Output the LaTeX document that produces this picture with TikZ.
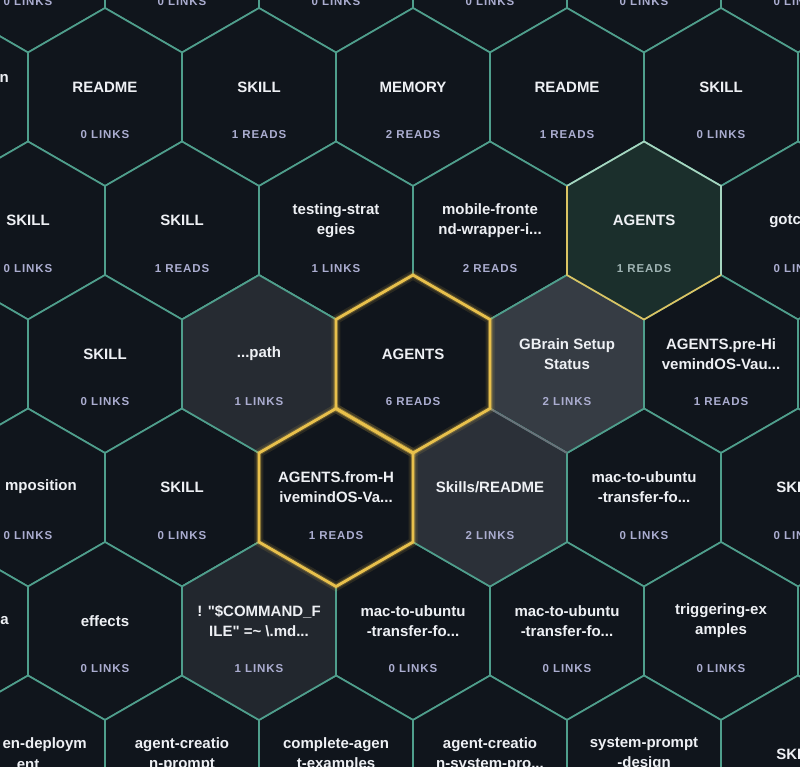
\documentclass[tikz,border=0pt]{standalone}
\usepackage{fontspec}
\setmainfont{Liberation Sans}
\newfontfamily\countfont[LetterSpace=8]{Liberation Sans}
\newfontfamily\rawfont[Ligatures=TeXOff]{Liberation Sans}
\definecolor{bgc}{HTML}{0E1319}
\definecolor{cellc}{HTML}{10151C}
\definecolor{edgec}{HTML}{4F9E8C}
\definecolor{goldc}{HTML}{E8C04C}
\definecolor{greyedge}{HTML}{6A7079}
\definecolor{mintc}{HTML}{A6D6C0}
\definecolor{titlec}{HTML}{EEF0F4}
\definecolor{countc}{HTML}{ABADD0}
\definecolor{greencount}{HTML}{A0B4B4}
\definecolor{greyA}{HTML}{262B32}
\definecolor{greyB}{HTML}{363C44}
\definecolor{greyC}{HTML}{2B3038}
\definecolor{greyD}{HTML}{22272E}
\definecolor{greenfill}{HTML}{1B2F2C}
\newcommand{\hexcell}[3]{\path[#3] (#1,#2) +(0,-89) -- +(77.07,-44.5) -- +(77.07,44.5) -- +(0,89) -- +(-77.07,44.5) -- +(-77.07,-44.5) -- cycle;}
\newcommand{\lbl}[6]{%
  \node[ttl] (#1t) at (#2,#3-10) {#4};
  \node[#6] (#1c) at (#2,#3+38) {#5};}
\begin{document}
\begin{tikzpicture}[x=1pt,y=-1pt,
  basecell/.style={fill=cellc,draw=edgec,line width=1.7pt,line join=miter},
  ttl/.style={font=\bfseries\fontsize{15}{20}\selectfont,text=titlec,align=center,inner sep=0pt},
  cnt/.style={font=\countfont\bfseries\fontsize{11.5}{13}\selectfont,text=countc,inner sep=0pt},
  gcnt/.style={cnt,text=greencount},
  glowA/.style={draw=goldc,line width=9pt,opacity=.12,line join=miter},
  glowB/.style={draw=goldc,line width=5pt,opacity=.25,line join=miter},
  goldline/.style={draw=goldc,line width=2.8pt,line join=miter}]
\useasboundingbox (0,0) rectangle (800,766);
\fill[bgc] (0,0) rectangle (800,766);
\clip (0,0) rectangle (800,766);
% grid of cells
\foreach \r in {0,...,6}{
  \pgfmathsetmacro\yy{-36.5+133.5*\r}
  \pgfmathsetmacro\off{mod(\r,2)==0 ? 28 : -49}
  \foreach \k in {-1,...,6}{
    \pgfmathsetmacro\xx{\off+154*\k}
    \hexcell{\xx}{\yy}{basecell}
  }
}
% grey cells
\hexcell{259}{364}{basecell,fill=greyA}
\hexcell{567}{364}{basecell,fill=greyB}
\hexcell{490}{497.5}{basecell,fill=greyC}
\hexcell{259}{631}{basecell,fill=greyD}
\draw[greyedge,line width=1.7pt] (489.93,408.5) -- (567,453);
% green cell
\hexcell{644}{230.5}{fill=greenfill}
\draw[mintc,line width=1.7pt,line join=miter] (566.93,186) -- (644,141.5) -- (721.07,186) -- (721.07,275);
\draw[goldc!80!mintc,line width=1.7pt,line join=miter] (721.07,275) -- (644,319.5) -- (566.93,275) -- (566.93,186);
% gold cells
\hexcell{413}{364}{glowA}
\hexcell{336}{497.5}{glowA}
\hexcell{413}{364}{glowB}
\hexcell{336}{497.5}{glowB}
\hexcell{413}{364}{goldline}
\hexcell{336}{497.5}{goldline}
% row 0
\node[cnt] (r0a) at (28,1.5) {0 LINKS};
\node[cnt] (r0b) at (182,1.5) {0 LINKS};
\node[cnt] (r0c) at (336,1.5) {0 LINKS};
\node[cnt] (r0d) at (490,1.5) {0 LINKS};
\node[cnt] (r0e) at (644,1.5) {0 LINKS};
\node[cnt] (r0f) at (798,1.5) {0 LINKS};
% row 1
\node[ttl,anchor=east] (r1z) at (9,78) {n};
\lbl{r1a}{105}{97}{README}{0 LINKS}{cnt}
\lbl{r1b}{259}{97}{SKILL}{1 READS}{cnt}
\lbl{r1c}{413}{97}{MEMORY}{2 READS}{cnt}
\lbl{r1d}{567}{97}{README}{1 READS}{cnt}
\lbl{r1e}{721}{97}{SKILL}{0 LINKS}{cnt}
% row 2
\lbl{r2a}{28}{230.5}{SKILL}{0 LINKS}{cnt}
\lbl{r2b}{182}{230.5}{SKILL}{1 READS}{cnt}
\lbl{r2c}{336}{230.5}{testing-strat\\egies}{1 LINKS}{cnt}
\lbl{r2d}{490}{230.5}{mobile-fronte\\nd-wrapper-i...}{2 READS}{cnt}
\lbl{r2e}{644}{230.5}{AGENTS}{1 READS}{gcnt}
\lbl{r2f}{798}{230.5}{gotchas}{0 LINKS}{cnt}
% row 3
\lbl{r3a}{105}{364}{SKILL}{0 LINKS}{cnt}
\lbl{r3b}{259}{364}{...path}{1 LINKS}{cnt}
\lbl{r3c}{413}{364}{AGENTS}{6 READS}{cnt}
\lbl{r3d}{567}{364}{GBrain Setup\\Status}{2 LINKS}{cnt}
\lbl{r3e}{721}{364}{AGENTS.pre-Hi\\vemindOS-Vau...}{1 READS}{cnt}
% row 4
\node[ttl,anchor=east] (r4z) at (77,487) {mposition};
\node[cnt] (r4zc) at (28,535.5) {0 LINKS};
\lbl{r4a}{182}{497.5}{SKILL}{0 LINKS}{cnt}
\lbl{r4b}{336}{497.5}{AGENTS.from-H\\ivemindOS-Va...}{1 READS}{cnt}
\lbl{r4c}{490}{497.5}{Skills/README}{2 LINKS}{cnt}
\lbl{r4d}{644}{497.5}{mac-to-ubuntu\\-transfer-fo...}{0 LINKS}{cnt}
\lbl{r4e}{798}{497.5}{SKILL}{0 LINKS}{cnt}
% row 5
\node[ttl,anchor=east] (r5z) at (9,621) {a};
\lbl{r5a}{105}{631}{effects}{0 LINKS}{cnt}
\lbl{r5b}{259}{631}{\rawfont\bfseries ! "\$COMMAND\_F\\\rawfont\bfseries ILE" =\textasciitilde\ \textbackslash.md...}{1 LINKS}{cnt}
\lbl{r5c}{413}{631}{mac-to-ubuntu\\-transfer-fo...}{0 LINKS}{cnt}
\lbl{r5d}{567}{631}{mac-to-ubuntu\\-transfer-fo...}{0 LINKS}{cnt}
\lbl{r5e}{721}{631}{triggering-ex\\amples}{0 LINKS}{cnt}
% row 6
\node[ttl,anchor=east] (r6z) at (87,745) {en-deploym};
\node[ttl] (r6z2) at (28,765) {ent};
\lbl{r6a}{182}{764.5}{agent-creatio\\n-prompt}{}{cnt}
\lbl{r6b}{336}{764.5}{complete-agen\\t-examples}{}{cnt}
\lbl{r6c}{490}{764.5}{agent-creatio\\n-system-pro...}{}{cnt}
\lbl{r6d}{644}{764.5}{system-prompt\\-design}{}{cnt}
\lbl{r6e}{798}{764.5}{SKILL}{}{cnt}
\end{tikzpicture}
\end{document}
